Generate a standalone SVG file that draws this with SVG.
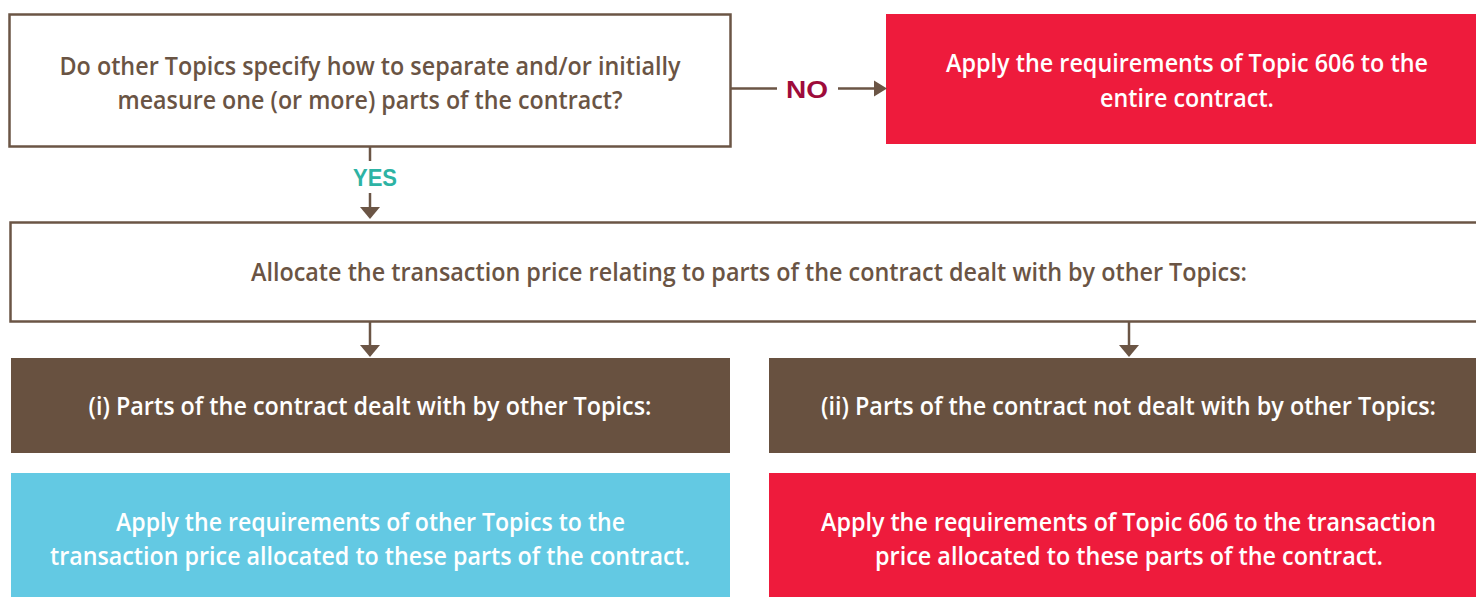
<svg xmlns="http://www.w3.org/2000/svg" width="1476" height="597" viewBox="0 0 1476 597">
<style>
.box{fill:#ffffff;stroke:#6b5545;stroke-width:2.5}
.t{font-family:"Open Sans","Liberation Sans",sans-serif;font-weight:600;font-size:25px;text-anchor:middle}
.dark{fill:#6a5444}
.light{fill:#ffffff}
.lbl{font-family:"Liberation Sans","Open Sans",sans-serif;font-weight:700;font-size:24px;text-anchor:middle}
.conn{stroke:#6b5545;stroke-width:2.5;fill:none}
.head{fill:#6b5545}
</style>
<rect width="1476" height="597" fill="#ffffff"/>
<g id="q1">
<rect class="box" x="9.5" y="14.5" width="721" height="132"/>
<text class="t dark" x="370" y="75" textLength="621" lengthAdjust="spacingAndGlyphs">Do other Topics specify how to separate and/or initially</text>
<text class="t dark" x="370" y="109" textLength="505" lengthAdjust="spacingAndGlyphs">measure one (or more) parts of the contract?</text>
</g>
<g id="noResult">
<rect x="886" y="14" width="590" height="130" fill="#ee1b3c"/>
<text class="t light" x="1187" y="72" textLength="482" lengthAdjust="spacingAndGlyphs">Apply the requirements of Topic 606 to the</text>
<text class="t light" x="1187" y="107" textLength="174" lengthAdjust="spacingAndGlyphs">entire contract.</text>
</g>
<g id="allocate">
<rect class="box" x="10.5" y="222.5" width="1470" height="99"/>
<text class="t dark" x="749" y="281" textLength="996" lengthAdjust="spacingAndGlyphs">Allocate the transaction price relating to parts of the contract dealt with by other Topics:</text>
</g>
<g id="partsI">
<rect x="11" y="358" width="719" height="95" fill="#685140"/>
<text class="t light" x="370" y="415" textLength="563" lengthAdjust="spacingAndGlyphs">(i) Parts of the contract dealt with by other Topics:</text>
</g>
<g id="partsII">
<rect x="769" y="358" width="707" height="95" fill="#685140"/>
<text class="t light" x="1128.5" y="415" textLength="615" lengthAdjust="spacingAndGlyphs">(ii) Parts of the contract not dealt with by other Topics:</text>
</g>
<g id="applyOther">
<rect x="11" y="473" width="719" height="124" fill="#63c9e3"/>
<text class="t light" x="370.5" y="531" textLength="509" lengthAdjust="spacingAndGlyphs">Apply the requirements of other Topics to the</text>
<text class="t light" x="370" y="565" textLength="640" lengthAdjust="spacingAndGlyphs">transaction price allocated to these parts of the contract.</text>
</g>
<g id="apply606">
<rect x="769" y="473" width="707" height="124" fill="#ee1b3c"/>
<text class="t light" x="1128.5" y="531" font-size="24" textLength="615" lengthAdjust="spacingAndGlyphs">Apply the requirements of Topic 606 to the transaction</text>
<text class="t light" x="1129" y="565" textLength="508" lengthAdjust="spacingAndGlyphs">price allocated to these parts of the contract.</text>
</g>
<g id="connectors">
<path class="conn" d="M731 88.5 H777"/>
<path class="conn" d="M838 88.5 H875"/>
<polygon class="head" points="874,80.5 887,88.5 874,96.5"/>
<text class="lbl" x="807" y="97.5" fill="#9e0b3b" textLength="42" lengthAdjust="spacingAndGlyphs">NO</text>
<path class="conn" d="M370 147 V161"/>
<text class="lbl" x="375" y="185.5" fill="#2db3a4" textLength="44" lengthAdjust="spacingAndGlyphs">YES</text>
<path class="conn" d="M370 193 V208"/>
<polygon class="head" points="360,207 380,207 370,219"/>
<path class="conn" d="M370 322 V346"/>
<polygon class="head" points="360,345 380,345 370,357"/>
<path class="conn" d="M1129 322 V346"/>
<polygon class="head" points="1119,345 1139,345 1129,357"/>
</g>
</svg>
